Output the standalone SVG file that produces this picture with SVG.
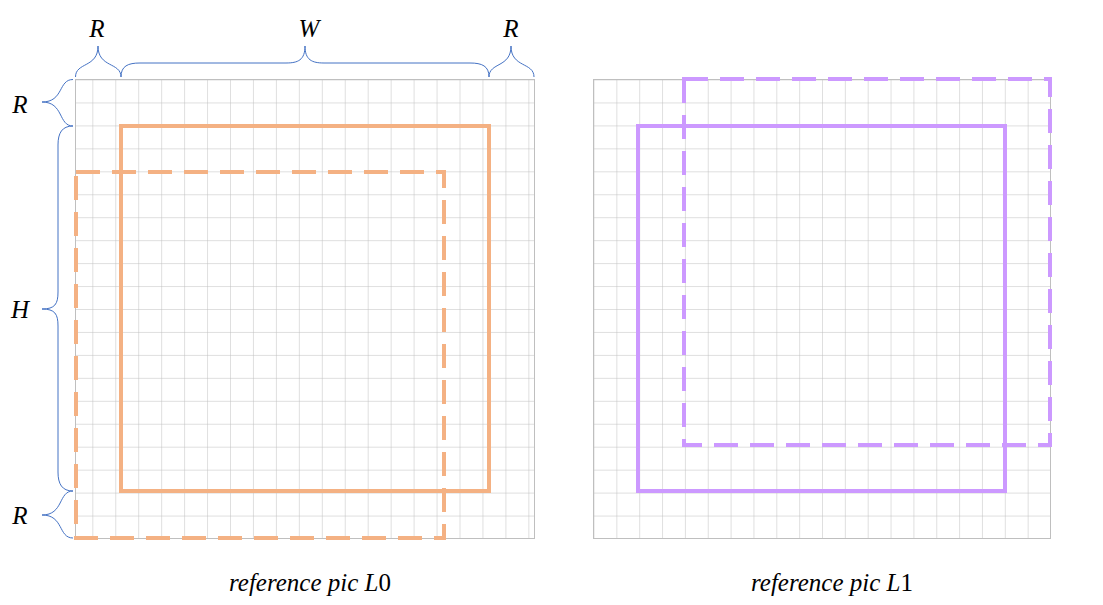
<svg xmlns="http://www.w3.org/2000/svg" width="1103" height="605" viewBox="0 0 1103 605">
<defs>
<pattern id="g" width="22.95" height="22.95" patternUnits="userSpaceOnUse" x="0.5" y="79.5"><path d="M0 0H22.95M0 0V22.95" fill="none" stroke="#bfbfbf" stroke-width="1"/></pattern>
<pattern id="g2" width="22.85" height="22.95" patternUnits="userSpaceOnUse" x="593.5" y="79.5"><path d="M0 0H22.85M0 0V22.95" fill="none" stroke="#bfbfbf" stroke-width="1"/></pattern>
</defs>
<style>
.t{font-family:"Liberation Serif",serif;font-style:italic;font-size:25px;text-anchor:middle}
.b{fill:none;stroke:#4472c4;stroke-width:1}
.o{fill:none;stroke:#f4b183;stroke-width:4}
.p{fill:none;stroke:#cc99ff;stroke-width:4}
.d{stroke-dasharray:24 12}
</style>
<g id="grid-left"><rect x="75.5" y="79.5" width="459" height="459" fill="url(#g)" stroke="#bfbfbf"/></g>
<g id="grid-right"><rect x="593.5" y="79.5" width="457" height="459" fill="url(#g2)" stroke="#bfbfbf"/></g>
<g id="connectors">
<path class="b" d="M75.5 77C75.5 62 98 68 98 46C98 68 121 62 121 77"/>
<path class="b" d="M121 77C121 66 128 63 140 63L286 63C298 63 305 60 305 46C305 60 312 63 324 63L470 63C482 63 489 66 489 77"/>
<path class="b" d="M489 77C489 62 511 68 511 46C511 68 534 62 534 77"/>
<path class="b" d="M73 79.5C58 79.5 64 102 42 102C64 102 58 126 73 126"/>
<path class="b" d="M73 126C62 126 58 133 58 145L58 292C58 304 55 309 42 309C55 309 58 314 58 326L58 472C58 484 62 491 73 491"/>
<path class="b" d="M73 491C58 491 64 515 42 515C64 515 58 538 73 538"/>
</g>
<g id="boxes-left">
<rect class="o" x="121" y="126" width="368" height="365"/>
<rect class="o d" x="76" y="172" width="368" height="366"/>
</g>
<g id="boxes-right">
<rect class="p" x="638" y="126" width="367" height="365"/>
<rect class="p d" x="684" y="79" width="366" height="366"/>
</g>
<g id="labels">
<text class="t" x="97" y="37">R</text>
<text class="t" x="309" y="37">W</text>
<text class="t" x="511" y="37">R</text>
<text class="t" x="20" y="113">R</text>
<text class="t" x="20" y="318">H</text>
<text class="t" x="20" y="524">R</text>
<text class="t" x="310" y="591">reference pic L<tspan font-style="normal">0</tspan></text>
<text class="t" x="832" y="591">reference pic L<tspan font-style="normal">1</tspan></text>
</g>
</svg>
